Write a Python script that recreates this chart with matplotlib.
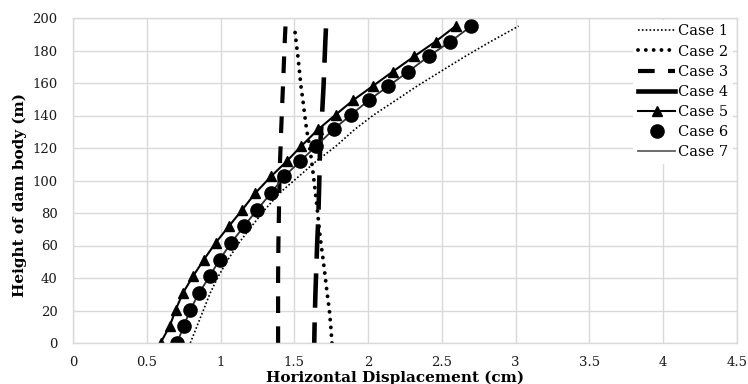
import matplotlib
matplotlib.use('Agg')
import matplotlib.pyplot as plt
from matplotlib.lines import Line2D

plt.rcParams['font.family'] = ['DejaVu Serif']

# ---- data ----
heights = [0, 10.3, 20.5, 30.8, 41, 51.3, 61.6, 71.8, 82, 92.3, 102.5,
           112, 121, 131.5, 140.5, 149.5, 158, 167, 176.5, 185.5, 195]

case1 = [0.795, 0.84, 0.885, 0.93, 0.985, 1.05, 1.125, 1.21, 1.30, 1.40, 1.53,
         1.65, 1.78, 1.91, 2.04, 2.19, 2.33, 2.49, 2.66, 2.83, 3.02]
case2 = [1.755, 1.747, 1.737, 1.722, 1.709, 1.695, 1.68, 1.667, 1.656, 1.643, 1.63,
         1.617, 1.603, 1.583, 1.57, 1.558, 1.545, 1.535, 1.524, 1.512, 1.50]
case3 = [1.39, 1.39, 1.39, 1.39, 1.39, 1.391, 1.392, 1.394, 1.396, 1.398, 1.40,
         1.403, 1.407, 1.411, 1.415, 1.419, 1.423, 1.427, 1.431, 1.435, 1.44]
case4 = [1.635, 1.637, 1.64, 1.643, 1.647, 1.651, 1.655, 1.66, 1.664, 1.667, 1.67,
         1.672, 1.675, 1.682, 1.688, 1.693, 1.698, 1.702, 1.706, 1.71, 1.715]
case5 = [0.593, 0.655, 0.696, 0.745, 0.813, 0.887, 0.966, 1.056, 1.147, 1.236, 1.342,
         1.45, 1.545, 1.662, 1.78, 1.90, 2.03, 2.167, 2.314, 2.457, 2.593]
case6 = [0.705, 0.750, 0.795, 0.854, 0.926, 0.993, 1.072, 1.158, 1.248, 1.342, 1.432,
         1.541, 1.646, 1.766, 1.885, 2.006, 2.136, 2.272, 2.411, 2.557, 2.70]
case7 = [0.705, 0.750, 0.795, 0.854, 0.926, 0.993, 1.072, 1.158, 1.248, 1.342, 1.432,
         1.541, 1.646, 1.766, 1.885, 2.006, 2.136, 2.272, 2.411, 2.557, 2.70]

series_labels = ['Case 1', 'Case 2', 'Case 3', 'Case 4', 'Case 5', 'Case 6', 'Case 7']
x_ticks = [0, 0.5, 1, 1.5, 2, 2.5, 3, 3.5, 4, 4.5]
x_tick_labels = ['0', '0.5', '1', '1.5', '2', '2.5', '3', '3.5', '4', '4.5']
y_ticks = [0, 20, 40, 60, 80, 100, 120, 140, 160, 180, 200]
y_tick_labels = [str(v) for v in y_ticks]

W, H = 748, 384
fig = plt.figure(figsize=(W / 100, H / 100), dpi=100)
ax = fig.add_axes([73 / W, (H - 343) / H, (737 - 73) / W, (343 - 18) / H])

k = 'black'
l1, = ax.plot(case1, heights, color=k, lw=1.2, linestyle=(0, (1, 1.3)))
l2, = ax.plot(case2, heights, color=k, lw=2.8, linestyle=(0, (0.01, 2.0)),
              dash_capstyle='round')
l3, = ax.plot(case3, heights, color=k, lw=3.0, linestyle=(0, (4, 3.2)),
              dash_capstyle='butt')
l4, = ax.plot(case4, heights, color=k, lw=3.3, linestyle=(3, (7.5, 3.2)),
              dash_capstyle='butt')
l5, = ax.plot(case5, heights, color=k, lw=1.5, marker='^', markersize=7.5)
l7, = ax.plot(case7, heights, color='#303030', lw=1.3)
l6, = ax.plot(case6, heights, color=k, linestyle='none', marker='o', markersize=9.5)

ax.set_xlim(0, 4.5)
ax.set_ylim(0, 200)
ax.set_xticks(x_ticks)
ax.set_xticklabels(x_tick_labels)
ax.set_yticks(y_ticks)
ax.set_yticklabels(y_tick_labels)
ax.grid(True, color='#d9d9d9', lw=1)
ax.set_axisbelow(True)
for s in ax.spines.values():
    s.set_color('#d9d9d9')
    s.set_linewidth(1)
ax.tick_params(axis='both', length=0, labelsize=9.5, colors='#1a1a1a')
ax.tick_params(axis='y', pad=11)
ax.tick_params(axis='x', pad=9)

fig.text(20 / W, 1 - 195 / H, 'Height of dam body (m)', rotation=90,
         ha='center', va='center', fontsize=11, fontweight='bold')
fig.text(395 / W, 1 - 378 / H, 'Horizontal Displacement (cm)',
         ha='center', va='center', fontsize=11, fontweight='bold')

handles = [
    Line2D([], [], color=k, lw=1.2, linestyle=(0, (1, 1.3))),
    Line2D([], [], color=k, lw=2.8, linestyle=(0, (0.01, 2.0)), dash_capstyle='round'),
    Line2D([], [], color=k, lw=3.0, linestyle=(0, (4, 3.2))),
    Line2D([], [], color=k, lw=3.3),
    Line2D([], [], color=k, lw=1.5, marker='^', markersize=7.5),
    Line2D([], [], color=k, linestyle='none', marker='o', markersize=9.5),
    Line2D([], [], color='#606060', lw=1.3),
]
leg = ax.legend(handles, series_labels, loc='upper right',
                bbox_to_anchor=(733 / W, 1 - 20 / H), bbox_transform=fig.transFigure,
                frameon=True, facecolor='white', edgecolor='none', framealpha=1,
                fancybox=False, fontsize=10.5, handlelength=2.6, handletextpad=0.2,
                labelspacing=0.42, borderpad=0.3, borderaxespad=0)

fig.savefig('out.png', dpi=100)
